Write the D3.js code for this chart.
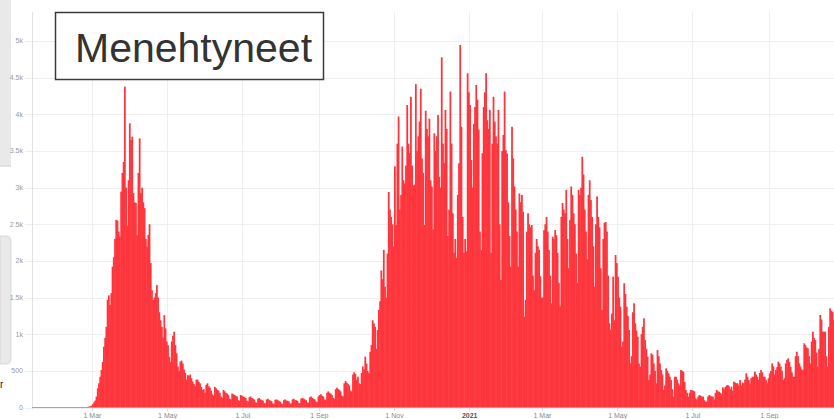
<!DOCTYPE html>
<html>
<head>
<meta charset="utf-8">
<script src="https://cdn.jsdelivr.net/npm/d3@7"></script>
<style>
  html, body { margin: 0; padding: 0; background: #fff; }
  svg { display: block; }
</style>
</head>
<body>
<svg id="chart" width="834" height="419"></svg>
<script>
// ---------- data (daily values) ----------
const title = "Menehtyneet";
const startDate = "2020-01-12";
const endDate = "2021-10-25";

const deaths2020 = [
  // Jan 12-31
  0,0,0,0,0,0,0,0,0,0,0,0,0,0,0,0,0,0,0,0,
  // Feb
  0,0,0,0,0,0,0,0,0,0,0,0,0,0,0,0,1,0,1,1,2,3,4,5,7,9,12,17,25,
  // Mar
  45,70,95,150,262,330,420,511,620,830,950,1100,1470,1530,1400,1560,1920,2050,2300,2560,2550,2400,2330,2945,3200,3350,4377,3000,2480,3100,3877,
  // Apr
  3650,3695,2925,2800,2790,2350,3200,3672,2925,3000,2800,2720,2300,2194,2353,2500,1970,1600,1467,1500,1560,1670,1500,1300,1190,1100,950,1260,1080,900,
  // May
  850,693,620,900,980,1034,850,740,560,500,625,640,600,520,470,380,443,430,450,400,355,320,290,380,380,350,330,280,240,250,200,
  // Jun
  310,330,290,270,230,180,160,280,260,240,230,200,150,130,240,220,200,190,170,120,110,190,180,170,160,150,100,90,170,160,
  // Jul
  150,140,130,90,80,140,150,130,120,110,70,65,120,130,110,100,95,60,55,110,120,100,95,85,55,50,105,110,100,90,80,
  // Aug
  55,50,100,110,95,90,85,55,55,110,120,100,100,90,60,60,120,130,120,110,100,70,65,140,150,130,120,110,80,75,150,
  // Sep
  170,180,160,150,110,100,200,220,200,190,170,130,120,250,270,250,240,220,160,150,330,360,340,320,300,230,220,450,480,460,
  // Oct
  380,420,330,320,470,560,520,693,600,500,470,760,852,1190,1150,1100,800,1057,1330,1450,1870,1750,2150,1650,1500,2100,2940,2700,2600,2500,2200,
  // Nov
  3290,2490,3600,3970,2700,2900,3560,3100,3058,3300,4127,3600,3470,4240,3300,3030,3040,4412,3500,3700,3900,4350,3400,3200,2490,4050,3800,3700,3940,3100,
  // Dec
  3015,2430,3740,3500,3700,3990,3149,3000,4777,3600,3331,4060,3800,2340,2700,4310,3600,2650,2110,2300,2040,2900,3330,4946,3830,2600,2110,2300,2130,4560,4300
];

const deaths2021 = [
  // Jan
  4127,3376,3000,3870,4100,4400,4200,3790,2400,2150,3470,4100,4300,4560,3920,3800,4060,2110,3600,4240,3900,3700,3600,4060,2500,1740,3500,3718,4310,3510,3465,
  // Feb
  2800,2340,1920,3830,3400,3015,2700,2400,1920,2920,2800,2900,2670,1240,1470,2400,2650,2500,2460,2490,1800,1600,2110,2300,2200,2150,1790,1500,
  // Mar
  1500,2420,2500,2600,2400,2150,1800,1420,2330,2300,2420,2350,2110,1700,1380,2600,2790,2700,2650,2970,2300,1900,2560,3015,2900,2650,2500,2100,1700,2970,2900,
  // Apr
  3000,3420,3180,2700,2400,2020,2900,3100,2830,2600,2200,1650,2500,2880,2600,2460,1900,1330,2300,2520,2530,2400,1800,1150,1060,1280,1785,1190,2080,1970,
  // May
  1785,1500,1375,830,900,1694,1550,1375,1250,1057,603,700,1300,1421,1148,1050,966,600,557,1000,1100,1217,920,800,693,375,450,739,720,602,500,
  // Jun
  330,784,700,602,511,450,239,300,534,500,466,420,375,250,148,420,420,380,330,300,511,500,489,350,239,200,148,200,239,235,
  // Jul
  230,220,125,110,150,170,160,150,148,100,80,80,150,170,160,150,148,110,200,239,220,216,200,180,275,250,280,300,307,290,250,
  // Aug
  284,230,352,340,330,330,300,375,300,340,330,380,466,420,375,330,400,420,420,489,450,420,380,470,511,480,420,420,380,330,400,
  // Sep
  466,500,602,560,450,511,550,625,600,557,500,375,400,602,650,670,620,557,480,420,420,700,761,700,602,560,520,511,875,850,
  // Oct 1-24
  820,807,700,602,900,1034,950,920,750,557,800,1262,1200,1034,1034,1034,700,557,1100,1352,1320,1307,1193,1000
];

const yTickValues = [0, 500, 1000, 1500, 2000, 2500, 3000, 3500, 4000, 4500, 5000];
const yTickLabels = ["0", "500", "1k", "1.5k", "2k", "2.5k", "3k", "3.5k", "4k", "4.5k", "5k"];
const xTickDates = ["2020-03-01", "2020-05-01", "2020-07-01", "2020-09-01", "2020-11-01",
                    "2021-01-01", "2021-03-01", "2021-05-01", "2021-07-01", "2021-09-01"];
const xTickLabels = ["1 Mar", "1 May", "1 Jul", "1 Sep", "1 Nov", "2021", "1 Mar", "1 May", "1 Jul", "1 Sep"];

// ---------- build ----------
const parse = d3.utcParse("%Y-%m-%d");
const start = parse(startDate);
const values = deaths2020.concat(deaths2021);
const data = values.map((v, i) => ({ date: d3.utcDay.offset(start, i), value: v }));

const svg = d3.select("#chart");
const W = 834, H = 419;

const x = d3.scaleUtc()
  .domain([start, parse(endDate)])
  .range([31.5, 835.4]);
const y = d3.scaleLinear()
  .domain([0, 5400])
  .range([407.5, 11.7]);

const plotLeft = 32, plotTop = 12, plotBottom = 407.5;

// left UI fragments (cropped screenshot panels)
svg.append("rect").attr("x", 0).attr("y", 0).attr("width", 11).attr("height", 166)
  .attr("fill", "#e9e9e9");
svg.append("line").attr("x1", 0).attr("x2", 11).attr("y1", 166).attr("y2", 166)
  .attr("stroke", "#cfcfcf").attr("stroke-width", 1);
svg.append("path")
  .attr("d", "M0,236 L6,236 Q11,236 11,241 L11,359 Q11,364 6,364 L0,364 Z")
  .attr("fill", "#e9e9e9").attr("stroke", "#d2d2d2").attr("stroke-width", 0.8);
svg.append("text").attr("x", 0).attr("y", 388).text("r")
  .attr("font-family", "Liberation Sans, Arial, sans-serif")
  .attr("font-size", 10).attr("fill", "#222");

// horizontal grid
const gY = svg.append("g").attr("class", "ygrid");
gY.selectAll("line").data(yTickValues).join("line")
  .attr("x1", 25).attr("x2", W)
  .attr("y1", d => Math.round(y(d)) + 0.5).attr("y2", d => Math.round(y(d)) + 0.5)
  .attr("stroke", "#efefef").attr("stroke-width", 1);

// vertical grid
const tickDates = xTickDates.map(parse);
const gX = svg.append("g").attr("class", "xgrid");
gX.selectAll("line").data(tickDates).join("line")
  .attr("x1", d => Math.round(x(d)) + 0.5).attr("x2", d => Math.round(x(d)) + 0.5)
  .attr("y1", plotTop).attr("y2", 411)
  .attr("stroke", "#efefef").attr("stroke-width", 1);

// left axis line
svg.append("line").attr("x1", plotLeft + 0.5).attr("x2", plotLeft + 0.5)
  .attr("y1", plotTop).attr("y2", plotBottom + 2)
  .attr("stroke", "#e2e2e2").attr("stroke-width", 1);

// bars
svg.append("g").selectAll("rect").data(data.filter(d => d.value > 0)).join("rect")
  .attr("x", d => x(d.date))
  .attr("width", d => x(d3.utcDay.offset(d.date, 1)) - x(d.date) + 0.55)
  .attr("y", d => y(d.value))
  .attr("height", d => y(0) - y(d.value))
  .attr("fill", "#fd363d");

// baseline
svg.append("line").attr("x1", plotLeft).attr("x2", W)
  .attr("y1", plotBottom).attr("y2", plotBottom)
  .attr("stroke", "#e38a8e").attr("stroke-width", 1);

// y labels
svg.append("g").selectAll("text").data(yTickValues).join("text")
  .attr("x", 23).attr("y", d => y(d)).attr("dy", "0.35em")
  .attr("text-anchor", "end")
  .attr("font-family", "Liberation Sans, Arial, sans-serif")
  .attr("font-size", 7).attr("fill", "#9a9a9a")
  .text((d, i) => yTickLabels[i]);

// x axis
const xAxis = d3.axisBottom(x)
  .tickValues(tickDates)
  .tickFormat((d, i) => xTickLabels[i])
  .tickSize(3).tickPadding(2);
const ax = svg.append("g").attr("transform", `translate(0,${plotBottom + 0.5})`).call(xAxis);
ax.select(".domain").remove();
ax.selectAll(".tick line").attr("stroke", "#d8d8d8");
ax.selectAll(".tick text")
  .attr("font-family", "Liberation Sans, Arial, sans-serif")
  .attr("font-size", 7)
  .attr("font-weight", (d, i) => xTickLabels[i] === "2021" ? "bold" : "normal")
  .attr("fill", (d, i) => xTickLabels[i] === "2021" ? "#555" : "#8a8a8a");

// title box
svg.append("rect").attr("x", 55.5).attr("y", 12.5).attr("width", 268).attr("height", 67)
  .attr("fill", "#fff").attr("stroke", "#3a3a3a").attr("stroke-width", 1.5);
svg.append("text").attr("x", 75).attr("y", 61.5).text(title)
  .attr("font-family", "Liberation Sans, Arial, sans-serif")
  .attr("font-size", 41).attr("fill", "#333");
</script>
</body>
</html>
